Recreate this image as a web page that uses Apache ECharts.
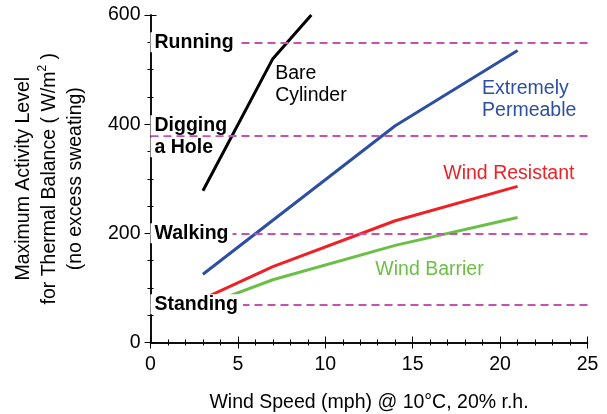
<!DOCTYPE html>
<html>
<head>
<meta charset="utf-8">
<script src="https://cdn.jsdelivr.net/npm/echarts@6/dist/echarts.min.js"></script>
<style>html,body{margin:0;padding:0;background:#fff}#c{width:607px;height:414px}</style>
</head>
<body>
<div id="c"></div>
<script>
// ---- data ----
const bareX = [3, 7, 9.2];
const bareY = [278, 520, 600];
const permX = [3, 14, 21];
const permY = [125, 397, 535];
const resistX = [3, 7, 14, 21];
const resistY = [80, 139, 223, 286];
const barrierX = [3, 7, 14, 21];
const barrierY = [67, 115, 178, 229];

const levelValues = [550, 378, 200, 70];
const levelNames = ['Running', 'Digging\na Hole', 'Walking', 'Standing'];

const annoText = ['Bare\nCylinder', 'Extremely\nPermeable', 'Wind Resistant', 'Wind Barrier'];
const annoX = [7.13, 18.97, 16.75, 12.86];
const annoY = [472, 445, 309, 134];

const xTicks = [0, 5, 10, 15, 20, 25];
const yTicks = [0, 200, 400, 600];

// ---- styles ----
const FONT = 'Liberation Sans, Arial, Helvetica, sans-serif';
const FS = 19.5;
const colors = ['#000000', '#2c4ea3', '#ee2127', '#6cbf45'];
const dashColor = '#c452b3';
const levelPadRight = [5, 1, 4, 5];

const zip = (xs, ys) => xs.map((x, i) => [x, ys[i]]);

const axisLine = { show: true, lineStyle: { color: '#000', width: 1.5 } };

const chart = echarts.init(document.getElementById('c'), null, { renderer: 'canvas' });

const series = [];
// dashed activity levels
series.push({
  type: 'line', data: [], silent: true, z: 1,
  markLine: {
    silent: true, symbol: 'none', animation: false,
    label: { show: false },
    lineStyle: { color: dashColor, type: [8, 5], width: 2, opacity: 1 },
    data: levelValues.map(v => ({ yAxis: v }))
  }
});
const lineData = [zip(bareX, bareY), zip(permX, permY), zip(resistX, resistY), zip(barrierX, barrierY)];
lineData.forEach((d, i) => {
  series.push({
    type: 'line', data: d, symbol: 'none', z: 3, clip: true,
    lineStyle: { color: colors[i], width: 3, opacity: 1 }, animation: false
  });
});
// level labels with white boxes (one box per text line)
const richFor = pr => ({
  b: {
    fontFamily: FONT, fontSize: FS, fontWeight: 'bold', color: '#000',
    lineHeight: 22, backgroundColor: '#ffffff', padding: [0, pr, 0, 4]
  }
});
series.push({
  type: 'scatter', z: 10, symbolSize: 0, animation: false, silent: true,
  itemStyle: { opacity: 1 },
  data: levelValues.map((v, i) => ({
    value: [0, v], name: levelNames[i],
    label: { rich: richFor(levelPadRight[i]) }
  })),
  label: {
    show: true, position: 'right', distance: 0, opacity: 1,
    formatter: p => p.name.split('\n').map(s => '{b|' + s + '}').join('\n'),
    fontFamily: FONT, fontSize: FS, fontWeight: 'bold', color: '#000', lineHeight: 22
  }
});
// series annotations
series.push({
  type: 'scatter', z: 10, symbolSize: 0, animation: false, silent: true,
  itemStyle: { opacity: 1 },
  data: annoText.map((t, i) => ({
    value: [annoX[i], annoY[i]], name: t,
    label: { color: colors[i] }
  })),
  label: {
    show: true, position: 'right', distance: 0,
    formatter: p => p.name, opacity: 1,
    fontFamily: FONT, fontSize: FS, lineHeight: 22
  }
});

const xBase = {
  type: 'value', min: xTicks[0], max: xTicks[xTicks.length - 1], interval: 5,
  axisLine, splitLine: { show: false },
  axisTick: { show: true, inside: true, length: 6, lineStyle: { color: '#000', width: 1 } },
  minorTick: { show: true, splitNumber: 5, length: 3, lineStyle: { color: '#000', width: 1 } }
};
const yBase = {
  type: 'value', min: yTicks[0], max: yTicks[yTicks.length - 1], interval: 200,
  axisLine, splitLine: { show: false },
  axisTick: { show: true, inside: true, length: 6, lineStyle: { color: '#000', width: 1 } },
  minorTick: { show: true, splitNumber: 4, length: 3, lineStyle: { color: '#000', width: 1 } }
};

chart.setOption({
  backgroundColor: '#fff',
  animation: false,
  grid: { left: 150.5, right: 19.5, top: 15, bottom: 71.5, containLabel: false, outerBoundsMode: 'none' },
  xAxis: [
    Object.assign({}, xBase, {
      position: 'bottom',
      axisLabel: { fontFamily: FONT, fontSize: FS, color: '#000', margin: 12 },
      name: 'Wind Speed (mph) @ 10°C, 20% r.h.', nameLocation: 'middle', nameGap: 50,
      nameTextStyle: { fontFamily: FONT, fontSize: FS, color: '#000' }
    }),
    Object.assign({}, xBase, { position: 'top', axisLabel: { show: false } })
  ],
  yAxis: [
    Object.assign({}, yBase, {
      position: 'left',
      axisLabel: { fontFamily: FONT, fontSize: FS, color: '#000', margin: 10 },
      name: 'Maximum Activity Level\nfor Thermal Balance ( W/m{sup|2} )\n(no excess sweating)',
      nameLocation: 'middle', nameRotate: 90, nameGap: 62,
      nameTextStyle: {
        fontFamily: FONT, fontSize: FS, color: '#000', lineHeight: 26, align: 'center',
        rich: { sup: { fontFamily: FONT, fontSize: 12, lineHeight: 12, verticalAlign: 'top', color: '#000' } }
      }
    }),
    Object.assign({}, yBase, { position: 'right', axisLabel: { show: false } }),
    Object.assign({}, yBase, {
      position: 'left', axisLine: { show: false }, axisLabel: { show: false },
      axisTick: { show: true, inside: false, length: 3, lineStyle: { color: '#000', width: 1 } },
      minorTick: { show: true, splitNumber: 4, length: 2, lineStyle: { color: '#000', width: 1 } }
    })
  ],
  series
});
</script>
</body>
</html>
